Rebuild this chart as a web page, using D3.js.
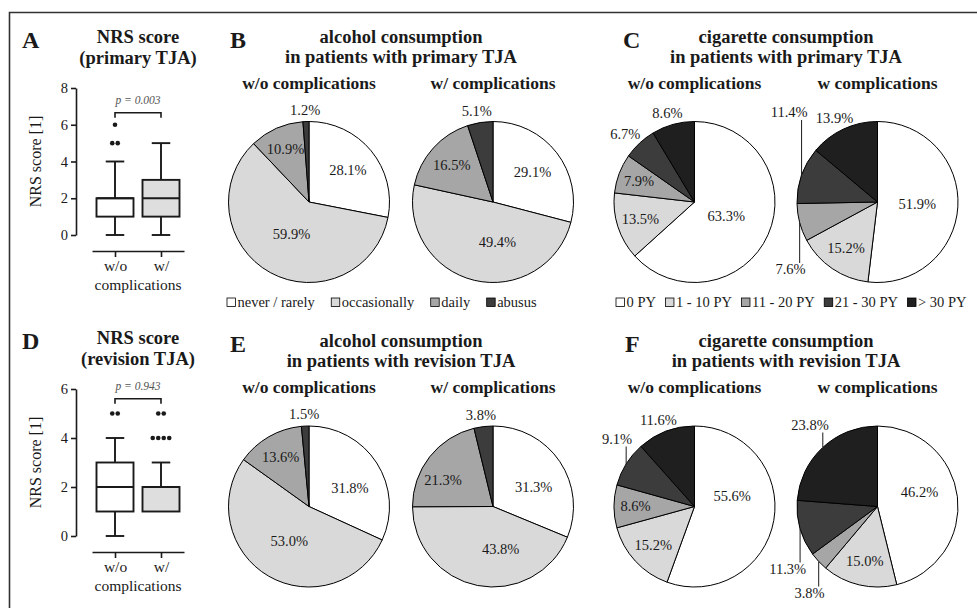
<!DOCTYPE html>
<html>
<head>
<meta charset="utf-8">
<script src="https://cdn.jsdelivr.net/npm/d3@7"></script>
<style>
body { margin: 0; background: #fff; }
svg text { font-family: "Liberation Serif", "Times New Roman", serif; fill: #1a1a1a; }
.letter { font-size: 24px; font-weight: bold; }
.title { font-size: 18.5px; font-weight: bold; text-anchor: middle; }
.sub { font-size: 17.5px; font-weight: bold; text-anchor: middle; }
.pct { font-size: 14.5px; }
</style>
</head>
<body>
<div class="canvas"></div>
<script>
// ---- data ----
const boxGroups = ["w/o", "w/"]
const nrsPrimary = [
  {min: 0, q1: 1, median: 2, q3: 2, max: 4},
  {min: 0, q1: 1, median: 2, q3: 3, max: 5}
]
const nrsPrimaryOutliers = [[5, 5, 6], []]
const nrsRevision = [
  {min: 0, q1: 1, median: 2, q3: 3, max: 4},
  {min: 1, q1: 1, median: 2, q3: 2, max: 3}
]
const nrsRevisionOutliers = [[5, 5], [4, 4, 4, 4, 5, 5]]

const alcoholCats = ["never / rarely", "occasionally", "daily", "abusus"]
const alcoholPrimaryWo = [28.1, 59.9, 10.9, 1.2]
const alcoholPrimaryW = [29.1, 49.4, 16.5, 5.1]
const alcoholRevisionWo = [31.8, 53.0, 13.6, 1.5]
const alcoholRevisionW = [31.3, 43.8, 21.3, 3.8]

const cigCats = ["0 PY", "1 - 10 PY", "11 - 20 PY", "21 - 30 PY", "> 30 PY"]
const cigPrimaryWo = [63.3, 13.5, 7.9, 6.7, 8.6]
const cigPrimaryW = [51.9, 15.2, 7.6, 11.4, 13.9]
const cigRevisionWo = [55.6, 15.2, 8.6, 9.1, 11.6]
const cigRevisionW = [46.2, 15.0, 3.8, 11.3, 23.8]

// ---- styling ----
const alcoholColors = ['#ffffff', '#d9d9d9', '#a6a6a6', '#3c3c3c']
const cigColors = ['#ffffff', '#d9d9d9', '#a6a6a6', '#3c3c3c', '#1f1f1f']
const boxColors = ['#ffffff', '#dedede']
const R = 80.5

const W = 977, H = 608
const svg = d3.select('.canvas')
    .append('svg')
    .attr('width', W)
    .attr('height', H)
    .attr('font-family', '"Liberation Serif", serif')

// figure frame (left + top only)
svg.append('path')
    .attr('d', `M9.5,${H} V12.5 H${W}`)
    .attr('fill', 'none')
    .attr('stroke', '#333')
    .attr('stroke-width', 1.6)

// ---- box plot panels ----
function boxPanel(o) {
    const g = svg.append('g').attr('transform', `translate(0, ${o.dy})`)
    g.append('text').attr('class', 'letter').attr('x', 22).attr('y', 48).text(o.letter)
    g.append('text').attr('class', 'title').attr('x', 138).attr('y', 43).text('NRS score')
    g.append('text').attr('class', 'title').attr('x', 138).attr('y', 64).text(o.title)

    const y = d3.scaleLinear().domain([0, o.max]).range([235, 88])
    const x = d3.scalePoint().domain(boxGroups).range([92, 184]).padding(0.5)
    const bw = 37

    const yAxis = g.append('g')
        .attr('transform', 'translate(76, 0)')
        .call(d3.axisLeft(y).tickValues(o.ticks).tickFormat(d3.format('d'))
            .tickSize(5).tickSizeOuter(0).tickPadding(3))
        .attr('font-family', null)
    yAxis.selectAll('text').attr('font-size', 14.5)
    yAxis.selectAll('path, line').attr('stroke', '#1a1a1a').attr('stroke-width', 1.6)

    const xAxis = g.append('g')
        .attr('transform', 'translate(0, 251)')
        .call(d3.axisBottom(x).tickSize(6).tickSizeOuter(0).tickPadding(3))
        .attr('font-family', null)
    xAxis.selectAll('text').attr('font-size', 15.5)
    xAxis.selectAll('path, line').attr('stroke', '#1a1a1a').attr('stroke-width', 1.6)

    g.append('text')
        .attr('x', 138).attr('y', 290)
        .attr('text-anchor', 'middle')
        .attr('font-size', 15.5)
        .text('complications')

    g.append('text')
        .attr('transform', `translate(41, ${(88 + 235) / 2}) rotate(-90)`)
        .attr('text-anchor', 'middle')
        .attr('font-size', 16)
        .text('NRS score [1]')

    const boxes = g.selectAll('g.box')
        .data(o.stats)
        .join('g')
        .attr('class', 'box')
        .attr('transform', (d, i) => `translate(${x(boxGroups[i])}, 0)`)
        .attr('stroke', '#1a1a1a')
        .attr('stroke-width', 1.9)

    boxes.filter(d => d.max > d.q3).append('line')
        .attr('y1', d => y(d.q3)).attr('y2', d => y(d.max))
    boxes.filter(d => d.max > d.q3).append('line')
        .attr('x1', -bw / 4).attr('x2', bw / 4)
        .attr('y1', d => y(d.max)).attr('y2', d => y(d.max))
    boxes.filter(d => d.min < d.q1).append('line')
        .attr('y1', d => y(d.q1)).attr('y2', d => y(d.min))
    boxes.filter(d => d.min < d.q1).append('line')
        .attr('x1', -bw / 4).attr('x2', bw / 4)
        .attr('y1', d => y(d.min)).attr('y2', d => y(d.min))

    boxes.append('rect')
        .attr('x', -bw / 2).attr('width', bw)
        .attr('y', d => y(d.q3))
        .attr('height', d => y(d.q1) - y(d.q3))
        .attr('fill', (d, i) => boxColors[i])
    boxes.append('line')
        .attr('x1', -bw / 2).attr('x2', bw / 2)
        .attr('y1', d => y(d.median)).attr('y2', d => y(d.median))

    // outliers: equal values sit side by side
    o.outliers.forEach((vals, i) => {
        const counts = d3.rollups(vals, v => v.length, v => v)
        counts.forEach(([v, n]) => {
            d3.range(n).forEach(k => {
                g.append('circle')
                    .attr('cx', x(boxGroups[i]) + (k - (n - 1) / 2) * 5.5)
                    .attr('cy', y(v))
                    .attr('r', 2.3)
                    .attr('fill', '#1a1a1a')
            })
        })
    })

    // significance bracket
    const by = y(o.bracket)
    const x1 = x(boxGroups[0]), x2 = x(boxGroups[1])
    g.append('path')
        .attr('d', `M${x1},${by + 5} V${by} H${x2} V${by + 5}`)
        .attr('fill', 'none')
        .attr('stroke', '#1a1a1a')
        .attr('stroke-width', 1.6)
    g.append('text')
        .attr('x', (x1 + x2) / 2).attr('y', by - 9)
        .attr('text-anchor', 'middle')
        .attr('font-size', 11.5)
        .attr('font-style', 'italic')
        .style('fill', '#555')
        .text(o.p)
}

boxPanel({letter: 'A', title: '(primary TJA)', dy: 0, max: 8, ticks: [0, 2, 4, 6, 8],
    stats: nrsPrimary, outliers: nrsPrimaryOutliers, bracket: 6.65, p: 'p = 0.003'})
boxPanel({letter: 'D', title: '(revision TJA)', dy: 301, max: 6, ticks: [0, 2, 4, 6],
    stats: nrsRevision, outliers: nrsRevisionOutliers, bracket: 5.6, p: 'p = 0.943'})

// ---- pie panels ----
const pieGen = d3.pie().sort(null).value(d => d)
const arcGen = d3.arc().innerRadius(0).outerRadius(R)
const fmt = v => d3.format('.1f')(v) + '%'

function pieTitle(letter, lx, cx, y0, line1, line2, subs, subX) {
    svg.append('text').attr('class', 'letter').attr('x', lx).attr('y', y0 + 5).text(letter)
    svg.append('text').attr('class', 'title').attr('x', cx).attr('y', y0).text(line1)
    svg.append('text').attr('class', 'title').attr('x', cx).attr('y', y0 + 20).text(line2)
    subs.forEach((s, i) => {
        svg.append('text').attr('class', 'sub').attr('x', subX[i]).attr('y', y0 + 46).text(s)
    })
}

// label spec per slice: {m:'in'} inside, {m:'out'} just past the rim,
// {m:'lead', ty} vertical leader line to ty (offset from centre)
function pie(cx, cy, values, colors, spec) {
    const g = svg.append('g').attr('transform', `translate(${cx}, ${cy})`)
    const arcs = pieGen(values)
    const total = d3.sum(values)

    g.selectAll('path')
        .data(arcs)
        .join('path')
        .attr('d', arcGen)
        .attr('fill', (d, i) => colors[i])
        .attr('stroke', '#000')
        .attr('stroke-width', 1)

    arcs.forEach((a, i) => {
        const s = spec[i] || {m: 'in'}
        const mid = (a.startAngle + a.endAngle) / 2
        const sn = Math.sin(mid), cs = Math.cos(mid)
        const t = g.append('text').attr('class', 'pct').text(fmt(a.data))
        if (s.m === 'in') {
            const rl = R * (0.78 - 0.55 * a.data / total)
            t.attr('x', sn * rl + (s.dx || 0))
             .attr('y', -cs * rl + (s.dy || 0))
             .attr('dy', '0.35em')
             .attr('text-anchor', 'middle')
        } else if (s.m === 'out') {
            t.attr('x', sn * (R + 6) + sn * 15)
             .attr('y', -cs * (R + 6) - cs * 6)
             .attr('dy', '0.35em')
             .attr('text-anchor', 'middle')
        } else {
            const px = sn * R, py = -cs * R
            g.append('line')
                .attr('x1', px).attr('x2', px)
                .attr('y1', py).attr('y2', s.ty)
                .attr('stroke', '#1a1a1a')
                .attr('stroke-width', 1)
            t.attr('x', px + 6)
             .attr('y', s.ty < py ? s.ty - 3 : s.ty + 11)
             .attr('text-anchor', 'end')
        }
    })
}

function legend(cats, colors, x0, x1, y) {
    const items = svg.append('g').selectAll('g')
        .data(cats)
        .join('g')
    items.append('rect')
        .attr('y', y - 9).attr('width', 8.5).attr('height', 8.5)
        .attr('fill', (d, i) => colors[i])
        .attr('stroke', '#000')
        .attr('stroke-width', 0.8)
    items.append('text')
        .attr('x', 10.5).attr('y', y)
        .attr('font-size', 14.5)
        .text(d => d)
    const widths = items.nodes().map(n => n.getBBox().width)
    const gap = (x1 - x0 - d3.sum(widths)) / (cats.length - 1)
    let cur = x0
    items.attr('transform', (d, i) => {
        const tr = `translate(${cur}, 0)`
        cur += widths[i] + gap
        return tr
    })
}

const colX = [309, 493, 694.5, 877.5]
const rowY = [202, 506.5]
const outLast4 = [{m: 'in'}, {m: 'in'}, {m: 'in'}, {m: 'out'}]

// B
pieTitle('B', 230, 401, 43, 'alcohol consumption', 'in patients with primary TJA',
    ['w/o complications', 'w/ complications'], [colX[0], colX[1]])
pie(colX[0], rowY[0], alcoholPrimaryWo, alcoholColors, outLast4)
pie(colX[1], rowY[0], alcoholPrimaryW, alcoholColors,
    [{m: 'in'}, {m: 'in', dx: 14}, {m: 'in'}, {m: 'out'}])
legend(alcoholCats, alcoholColors, 227, 537, 307)

// C
pieTitle('C', 623, 786, 43, 'cigarette consumption', 'in patients with primary TJA',
    ['w/o complications', 'w complications'], [colX[2], colX[3]])
pie(colX[2], rowY[0], cigPrimaryWo, cigColors,
    [{m: 'in'}, {m: 'in'}, {m: 'in'}, {m: 'out'}, {m: 'out'}])
pie(colX[3], rowY[0], cigPrimaryW, cigColors,
    [{m: 'in'}, {m: 'in'}, {m: 'lead', ty: 61}, {m: 'lead', ty: -82}, {m: 'out'}])
legend(cigCats, cigColors, 616, 967, 307)

// E
pieTitle('E', 230, 401, 346.5, 'alcohol consumption', 'in patients with revision TJA',
    ['w/o complications', 'w/ complications'], [colX[0], colX[1]])
pie(colX[0], rowY[1], alcoholRevisionWo, alcoholColors,
    [{m: 'in', dy: 8}, {m: 'in'}, {m: 'in'}, {m: 'out'}])
pie(colX[1], rowY[1], alcoholRevisionW, alcoholColors,
    [{m: 'in', dy: 8}, {m: 'in', dx: 16}, {m: 'in', dx: -8, dy: 6}, {m: 'out'}])

// F
pieTitle('F', 625, 786, 346.5, 'cigarette consumption', 'in patients with revision TJA',
    ['w/o complications', 'w complications'], [colX[2], colX[3]])
pie(colX[2], rowY[1], cigRevisionWo, cigColors,
    [{m: 'in', dy: -17}, {m: 'in'}, {m: 'in'}, {m: 'lead', ty: -60}, {m: 'out'}])
pie(colX[3], rowY[1], cigRevisionW, cigColors,
    [{m: 'in', dy: -9}, {m: 'in'}, {m: 'lead', ty: 80}, {m: 'lead', ty: 56}, {m: 'lead', ty: -74}])
</script>
</body>
</html>
